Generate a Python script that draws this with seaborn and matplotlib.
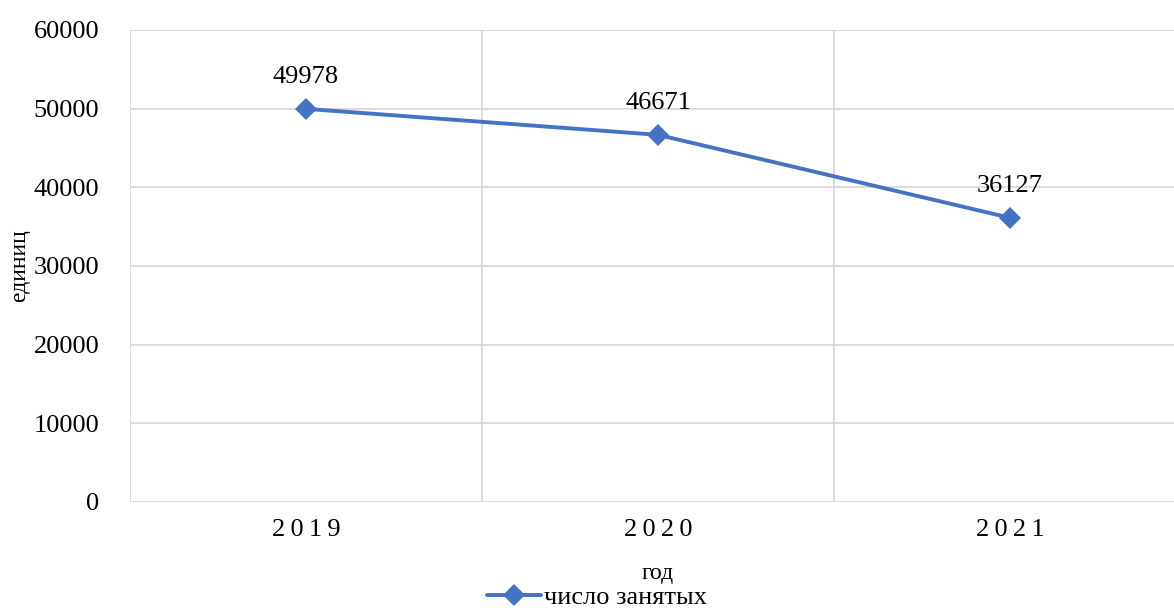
import matplotlib
matplotlib.use("Agg")
import matplotlib.pyplot as plt
import seaborn as sns
import pandas as pd

# --- данные ---
years = ["2019", "2020", "2021"]
employed = [49978, 46671, 36127]
series_name = "число занятых"

df = pd.DataFrame({"pos": range(len(years)), "value": employed, "series": series_name})

sns.set_theme(style="white")
plt.rcParams["font.family"] = ["Liberation Serif", "DejaVu Serif"]
plt.rcParams["text.color"] = "black"
plt.rcParams["axes.labelcolor"] = "black"
plt.rcParams["xtick.color"] = "black"
plt.rcParams["ytick.color"] = "black"

blue = "#4472C4"
grid_col = "#d9d9d9"

fig = plt.figure(figsize=(11.74, 6.08), dpi=100)
# область построения как в Excel: справа уходит чуть за край рисунка
ax = fig.add_axes([130 / 1174, 106 / 608, 1056 / 1174, 472 / 608])

sns.lineplot(data=df, x="pos", y="value", hue="series", palette=[blue],
             marker="D", markersize=11, markeredgewidth=0, linewidth=2.8, ax=ax)

ax.set_xlim(-0.5, len(years) - 0.5)
ax.set_ylim(0, 60000)
ax.set_yticks(range(0, 60001, 10000))
ax.set_yticklabels([str(v) for v in range(0, 60001, 10000)], fontsize=19)
ax.set_xticks(range(len(years)))
ax.set_xticklabels(["\u2009".join(y) for y in years], fontsize=19)
ax.set_xticks([i - 0.5 for i in range(len(years) + 1)], minor=True)
ax.tick_params(axis="both", which="both", length=0)
ax.tick_params(axis="x", pad=12)
ax.tick_params(axis="y", pad=22)

ax.grid(False)
ax.yaxis.grid(True, color=grid_col, linewidth=1.3)
ax.xaxis.grid(True, which="minor", color=grid_col, linewidth=1.3)
for s in ax.spines.values():
    s.set_visible(False)

# подписи значений
for i, v in enumerate(employed):
    ax.annotate(str(v), (i, v), xytext=(0, 15), textcoords="offset points",
                ha="center", va="bottom", fontsize=19)

ax.set_ylabel("единиц", fontsize=17)
ax.set_xlabel("год", fontsize=17, labelpad=16)
ax.yaxis.set_label_coords(-100 / 1056, 0.5)

ax.legend_.remove()
fig.legend(*ax.get_legend_handles_labels(), loc="center", bbox_to_anchor=(597 / 1174, 1 - 597 / 608),
           frameon=False, fontsize=19, handlelength=2.05, handletextpad=0.1, borderpad=0)

fig.savefig("out.png", dpi=100)
